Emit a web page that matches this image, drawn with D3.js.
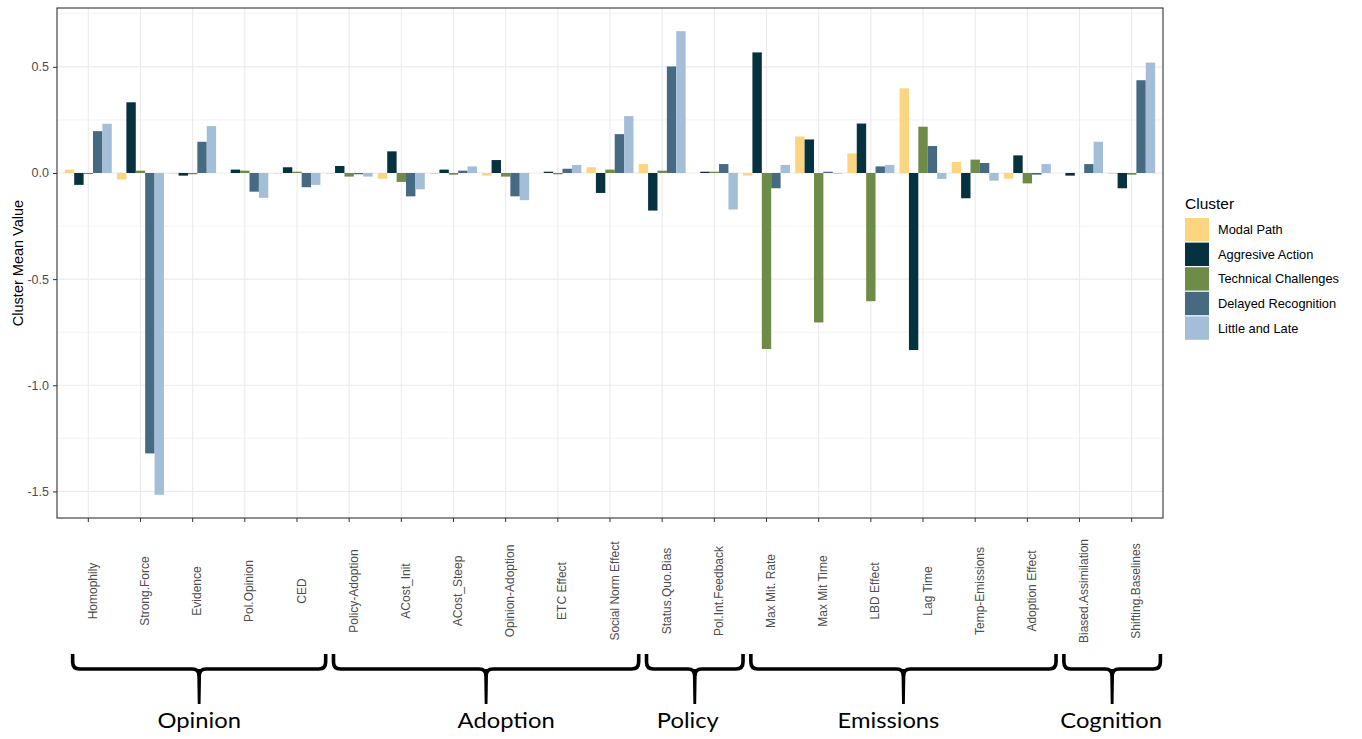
<!DOCTYPE html>
<html>
<head>
    <title>cluster means</title>
    <script src="https://d3js.org/d3.v7.min.js"></script>
</head>
<body style="margin:0;background:#ffffff;">
<svg width="1362" height="739" id="mainsvg"></svg>
<script>
// parameters on the x axis
const categories=['Homophily','Strong.Force','Evidence','Pol.Opinion','CED',
  'Policy-Adoption','ACost_Init','ACost_Steep','Opinion-Adoption','ETC Effect','Social Norm Effect',
  'Status.Quo.Bias','Pol.Int.Feedback',
  'Max Mit. Rate','Max Mit Time','LBD Effect','Lag Time','Temp-Emissions','Adoption Effect',
  'Biased.Assimilation','Shifting.Baselines'];

const clusters=['Modal Path','Aggresive Action','Technical Challenges','Delayed Recognition','Little and Late'];

// cluster mean values, one per category
const modalPath=[0.016,-0.031,-0.003,0.0,-0.003,-0.003,-0.027,-0.005,-0.0125,0.0,0.027,
  0.042,0.0,-0.0125,0.172,0.092,0.399,0.052,-0.027,0.0,-0.005];
const aggresiveAction=[-0.056,0.333,-0.0125,0.016,0.027,0.033,0.102,0.016,0.061,0.006,-0.094,
  -0.177,0.006,0.568,0.158,0.233,-0.834,-0.119,0.083,-0.0125,-0.072];
const technicalChallenges=[-0.005,0.011,-0.006,0.011,0.006,-0.017,-0.042,-0.008,-0.017,-0.006,0.016,
  0.011,0.006,-0.829,-0.704,-0.604,0.218,0.063,-0.049,0.0,-0.008];
const delayedRecognition=[0.197,-1.321,0.147,-0.088,-0.067,-0.006,-0.110,0.011,-0.110,0.020,0.183,
  0.502,0.042,-0.072,0.006,0.031,0.127,0.047,-0.008,0.042,0.437];
const littleAndLate=[0.232,-1.516,0.221,-0.117,-0.056,-0.017,-0.077,0.031,-0.128,0.038,0.268,
  0.668,-0.172,0.038,-0.003,0.038,-0.028,-0.036,0.042,0.147,0.520];

const yTicks=[-1.5,-1.0,-0.5,0.0,0.5];

// groups of parameters shown with braces under the axis
const groupNames=['Opinion','Adoption','Policy','Emissions','Cognition'];
const groupFirst=['Homophily','Policy-Adoption','Status.Quo.Bias','Max Mit. Rate','Biased.Assimilation'];
const groupLast=['CED','Social Norm Effect','Pol.Int.Feedback','Adoption Effect','Shifting.Baselines'];

const colors=['#FDD580','#06313F','#6E8B47','#456A82','#A4BED8'];
const series=[modalPath,aggresiveAction,technicalChallenges,delayedRecognition,littleAndLate];

let svg=d3.select('svg');
const width=+svg.attr('width');
const height=+svg.attr('height');
const margin={top:8,right:199,bottom:221,left:57};
const innerWidth=width-margin.left-margin.right;
const innerHeight=height-margin.top-margin.bottom;
const g=svg.append('g').attr('id','maingroup')
  .attr('transform',`translate(${margin.left},${margin.top})`);

const data=[];
categories.forEach((c,i)=>{
  clusters.forEach((k,j)=>{
    data.push({cat:c,cluster:k,value:series[j][i]});
  });
});

// ggplot like 5% expansion
const ymin=d3.min(data,d=>d.value), ymax=d3.max(data,d=>d.value);
const pad=(ymax-ymin)*0.05;
const yscale=d3.scaleLinear().domain([ymin-pad,ymax+pad]).range([innerHeight,0]);

const xscale=d3.scaleBand().domain(categories).range([0,innerWidth])
  .paddingInner(0).paddingOuter(0.1);
const bw=xscale.bandwidth();
const x1=d3.scaleBand().domain(clusters).range([bw*0.05,bw*0.95]);
const color=d3.scaleOrdinal().domain(clusters).range(colors);

// grid
const minor=d3.range(-1.75,1,0.5).filter(v=>v>yscale.domain()[0]&&v<yscale.domain()[1]);
g.selectAll('.minor').data(minor).enter().append('line')
  .attr('x1',0).attr('x2',innerWidth)
  .attr('y1',d=>yscale(d)).attr('y2',d=>yscale(d))
  .attr('stroke','#EBEBEB').attr('stroke-width',0.6);
g.selectAll('.hmajor').data(yTicks).enter().append('line')
  .attr('x1',0).attr('x2',innerWidth)
  .attr('y1',d=>yscale(d)).attr('y2',d=>yscale(d))
  .attr('stroke','#EBEBEB').attr('stroke-width',1.1);
g.selectAll('.vmajor').data(categories).enter().append('line')
  .attr('x1',d=>xscale(d)+bw/2).attr('x2',d=>xscale(d)+bw/2)
  .attr('y1',0).attr('y2',innerHeight)
  .attr('stroke','#EBEBEB').attr('stroke-width',1.1);

// bars
g.selectAll('.bar').data(data).enter().append('rect')
  .attr('class','bar')
  .attr('x',d=>xscale(d.cat)+x1(d.cluster))
  .attr('width',x1.bandwidth())
  .attr('y',d=>yscale(Math.max(0,d.value)))
  .attr('height',d=>Math.abs(yscale(d.value)-yscale(0)))
  .attr('fill',d=>color(d.cluster));

// border
g.append('rect').attr('x',0).attr('y',0).attr('width',innerWidth).attr('height',innerHeight)
  .attr('fill','none').attr('stroke','#333333').attr('stroke-width',1.1);

// axes
const yaxis=d3.axisLeft(yscale).tickValues(yTicks).tickFormat(d=>d.toFixed(1))
  .tickSize(4).tickPadding(4);
const ya=g.append('g').attr('id','yaxis').call(yaxis)
  .attr('font-family','Arial').attr('font-size',12.5);
ya.select('.domain').remove();
ya.selectAll('line').attr('stroke','#333333');
ya.selectAll('text').attr('fill','#4D4D4D');

const xaxis=d3.axisBottom(xscale).tickSize(4);
const xa=g.append('g').attr('id','xaxis').attr('transform',`translate(0,${innerHeight})`).call(xaxis)
  .attr('font-family','Arial').attr('font-size',12);
xa.select('.domain').remove();
xa.selectAll('line').attr('stroke','#333333');
xa.selectAll('text')
  .attr('x',0).attr('y',0).attr('dy','0.8em')
  .attr('transform',`translate(-1,${591-margin.top-innerHeight}) rotate(-90)`)
  .attr('text-anchor','middle')
  .attr('fill','#4D4D4D');

// y title
svg.append('text')
  .attr('transform',`translate(23,${margin.top+innerHeight/2}) rotate(-90)`)
  .attr('text-anchor','middle')
  .attr('font-family','Arial').attr('font-size',14.5)
  .attr('fill','#000').text('Cluster Mean Value');

// legend
const lg=svg.append('g').attr('transform','translate(1185,0)')
  .attr('font-family','Arial');
lg.append('text').attr('x',0).attr('y',209).text('Cluster')
  .attr('font-size',15.5).attr('fill','#000');
const item=lg.selectAll('.legend').data(clusters).enter().append('g')
  .attr('class','legend')
  .attr('transform',(d,i)=>`translate(0,${218+i*24.6})`);
item.append('rect').attr('width',24).attr('height',23.4).attr('fill',d=>color(d));
item.append('text').attr('x',33).attr('y',16.2).text(d=>d)
  .attr('font-size',12.8).attr('fill','#000');

// braces
const step=xscale.step();
const labelDx=[0,20,-7,-15,-1];
const yTop=654, yLine=669, yTip=704, r=7;
groupNames.forEach((name,i)=>{
  const x0=margin.left+xscale(groupFirst[i])+bw/2-0.3*step;
  const xe=margin.left+xscale(groupLast[i])+bw/2+0.55*step;
  const cx=(x0+xe)/2;
  const p=`M${x0},${yTop} L${x0},${yLine-r} Q${x0},${yLine} ${x0+r},${yLine} L${cx-r},${yLine} Q${cx},${yLine} ${cx},${yLine+r}`
    +` M${cx},${yLine+r} Q${cx},${yLine} ${cx+r},${yLine} L${xe-r},${yLine} Q${xe},${yLine} ${xe},${yLine-r} L${xe},${yTop}`;
  svg.append('path').attr('d',p).attr('fill','none').attr('stroke','#000').attr('stroke-width',3.6);
  svg.append('path').attr('d',`M${cx-2},${yLine} L${cx+2},${yLine} L${cx+1.4},${yTip} L${cx-1.4},${yTip} Z`)
    .attr('fill','#000');
  svg.append('text')
    .attr('transform',`translate(${cx+labelDx[i]},728) scale(1.08,1)`)
    .attr('text-anchor','middle')
    .attr('font-family','Lato').attr('font-size',22)
    .attr('fill','#000').text(name);
});
</script>
</body>
</html>
